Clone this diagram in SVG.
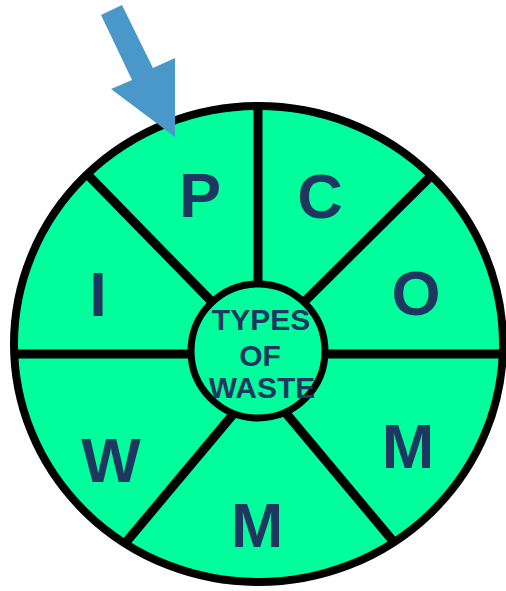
<svg xmlns="http://www.w3.org/2000/svg" width="506" height="591" viewBox="0 0 506 591">
<style>
.lbl{font-family:"Liberation Sans",Arial,sans-serif;font-weight:bold;fill:#1E3760;text-anchor:middle}
.big{font-size:63px}
.mid{font-size:30px}
.div{stroke:#000;stroke-width:9;fill:none}
</style>
<defs>
<clipPath id="clip"><ellipse cx="258.5" cy="344" rx="244.5" ry="238"/></clipPath>
</defs>
<rect width="506" height="591" fill="#fff"/>
<g id="wheel">
<ellipse cx="258.5" cy="344" rx="244.5" ry="238" fill="#00FF9C"/>
</g>
<g id="connectors" clip-path="url(#clip)">
<line class="div" x1="258" y1="100" x2="258" y2="290"/>
<line class="div" x1="86" y1="173" x2="215" y2="305"/>
<line class="div" x1="434" y1="173" x2="301" y2="305"/>
<line class="div" x1="8" y1="354" x2="195" y2="354"/>
<line class="div" x1="322" y1="354" x2="508" y2="354"/>
<line class="div" x1="117" y1="553" x2="235" y2="412"/>
<line class="div" x1="403" y1="553" x2="285" y2="412"/>
</g>
<ellipse cx="258.5" cy="344" rx="244.5" ry="238" fill="none" stroke="#000" stroke-width="8"/>
<g id="seg-P"><text class="lbl big" x="200" y="217">P</text></g>
<g id="seg-C"><text class="lbl big" x="320" y="218">C</text></g>
<g id="seg-O"><text class="lbl big" x="416" y="315">O</text></g>
<g id="seg-M1"><text class="lbl big" x="408" y="468">M</text></g>
<g id="seg-M2"><text class="lbl big" x="257" y="547">M</text></g>
<g id="seg-W"><text class="lbl big" x="111" y="482">W</text></g>
<g id="seg-I"><text class="lbl big" x="98" y="316">I</text></g>
<g id="center">
<circle cx="258" cy="351" r="67" fill="#00FF9C" stroke="#000" stroke-width="7"/>
<text class="lbl mid" x="261" y="330">TYPES</text>
<text class="lbl mid" x="260" y="366">OF</text>
<text class="lbl mid" x="262" y="398">WASTE</text>
</g>
<g id="arrow">
<polygon points="101,15 122,5 153,68 175,58 175,137 111,89 132,80" fill="#4A98C9"/>
</g>
</svg>
